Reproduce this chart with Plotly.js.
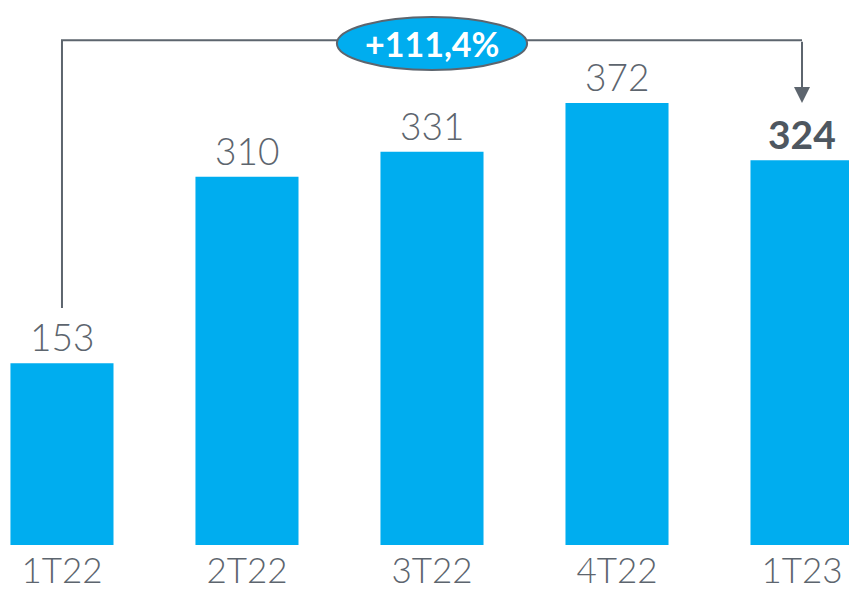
<!DOCTYPE html>
<html><head><meta charset="utf-8">
<script src="https://cdn.plot.ly/plotly-3.0.1.min.js"></script>
<style>html,body{margin:0;padding:0;background:#fff}#c{width:849px;height:592px}</style>
</head><body><div id="c"></div>
<script>
const categories = ["1T22","2T22","3T22","4T22","1T23"];
const values = [153, 310, 331, 372, 324];
const growthLabel = "+111,4%";

const BLUE = "#00adef", GRAY = "#5d656e", DARK = "#4e5760";
const FONT = "Lato, 'Open Sans', sans-serif";

const trace = {
  type: "bar", x: categories, y: values,
  marker: {color: BLUE}, hoverinfo: "none"
};

const last = values.length - 1;
const anns = values.map((v, i) => ({
  x: categories[i], y: v, xref: "x", yref: "y",
  text: i === last ? "<b>" + v + "</b>" : String(v),
  showarrow: false, yanchor: "bottom", yshift: i === last ? 1 : 2,
  font: {family: FONT, size: i === last ? 39 : 37, color: i === last ? DARK : GRAY, weight: i === last ? 900 : 300}
}));

// bracket: from first bar up, across, down to last bar (arrow)
const yTop = 425, yStart = 199.5, yTip = 372;
anns.push({
  x: 4, y: yTip, ax: 4, ay: yTop, xref: "x", yref: "y", axref: "x", ayref: "y",
  text: "", showarrow: true, arrowhead: 2, arrowsize: 1.6, arrowwidth: 2, arrowcolor: GRAY, standoff: 0
});
anns.push({
  x: 2, y: (444.5 + 399.8) / 2, xref: "x", yref: "y", text: "<b>" + growthLabel + "</b>",
  showarrow: false, font: {family: FONT, size: 34, color: "#ffffff", weight: 900}
});

const layout = {
  width: 849, height: 592,
  margin: {l: 0, r: 0, t: 0, b: 47},
  paper_bgcolor: "#fff", plot_bgcolor: "#fff",
  showlegend: false, bargap: 0.443,
  xaxis: {range: [-0.335, 4.254], showgrid: false, zeroline: false, showline: false, ticks: "",
          tickfont: {family: FONT, size: 35, color: GRAY, weight: 300}, fixedrange: true, ticklabelstandoff: 2},
  yaxis: {range: [0, 458.8], visible: false, fixedrange: true},
  annotations: anns,
  shapes: [
    {type: "path", xref: "x", yref: "y",
     path: "M 0," + yStart + " L 0," + yTop + " L 4," + yTop,
     line: {color: GRAY, width: 2}},
    {type: "circle", xref: "x", yref: "y", x0: 1.486, x1: 2.514, y0: 399.8, y1: 444.5,
     fillcolor: BLUE, line: {color: GRAY, width: 2}}
  ]
};

Plotly.newPlot("c", [trace], layout, {displayModeBar: false, staticPlot: true});
</script></body></html>
